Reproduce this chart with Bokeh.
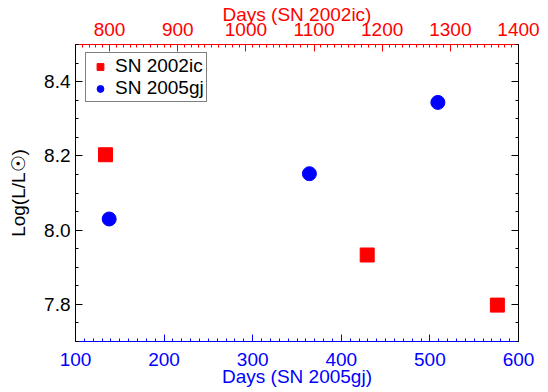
from bokeh.plotting import figure
from bokeh.models import (Range1d, LinearAxis, SingleIntervalTicker, Legend,
                          LegendItem, NumeralTickFormatter, CustomJSTickFormatter)
from bokeh.embed import file_html
from bokeh.resources import INLINE

# ---- data ----
days_2002ic = [794, 1178, 1369]          # top axis: Days (SN 2002ic)
logL_2002ic = [8.203, 7.933, 7.798]
days_2005gj = [138, 364, 509]            # bottom axis: Days (SN 2005gj)
logL_2005gj = [8.030, 8.152, 8.344]

bottom_range = (100, 600)
top_range = (750, 1400)
y_range = (7.7, 8.5)

FONT = "Liberation Sans"
FS = "19px"
RED = "#ff0000"
BLUE = "#0000ff"
BLACK = "#000000"

SHIFT = 8
W, H = 548, 392 + SHIFT

p = figure(width=W, height=H, output_backend="svg", toolbar_location=None,
           x_range=Range1d(*bottom_range), y_range=Range1d(*y_range),
           min_border_left=75, min_border_right=30,
           min_border_top=44 + SHIFT, min_border_bottom=51)
p.styles = {"margin-top": f"-{SHIFT}px"}
p.extra_x_ranges = {"top": Range1d(*top_range)}
p.grid.visible = False
p.outline_line_color = None
p.background_fill_color = "white"
p.border_fill_color = "white"


def style(ax, color, interval, nminor):
    ax.ticker = SingleIntervalTicker(interval=interval, num_minor_ticks=nminor)
    ax.axis_line_color = color
    ax.major_tick_line_color = color
    ax.minor_tick_line_color = color
    ax.major_label_text_color = color
    ax.axis_label_text_color = color
    ax.major_tick_in = 7
    ax.major_tick_out = 0
    ax.minor_tick_in = 3
    ax.minor_tick_out = 0
    ax.major_label_text_font = FONT
    ax.major_label_text_font_size = FS
    ax.axis_label_text_font = FONT
    ax.axis_label_text_font_size = FS
    ax.axis_label_text_font_style = "normal"


# bottom axis
bx = p.xaxis[0]
style(bx, BLUE, 100, 10)
bx.axis_label = "Days (SN 2005gj)"
bx.major_label_standoff = 11
bx.axis_label_standoff = -3

# top axis
tx = LinearAxis(x_range_name="top")
style(tx, RED, 100, 10)
tx.axis_label = "Days (SN 2002ic)"
tx.major_label_text_line_height = 1.0
tx.axis_label_text_line_height = 1.0
tx.major_label_standoff = 9
tx.axis_label_standoff = -5
p.add_layout(tx, "above")

# left axis
ly = p.yaxis[0]
style(ly, BLACK, 0.2, 4)
ly.formatter = NumeralTickFormatter(format="0.0")
ly.major_label_standoff = 5
ly.axis_label = "Log(L/L\u2609)"
ly.axis_label_standoff = 12

# right axis (ticks only)
ry = LinearAxis()
style(ry, BLACK, 0.2, 4)
ry.formatter = CustomJSTickFormatter(code="return ''")
ry.major_label_standoff = 0
p.add_layout(ry, "right")

# data
sq = p.scatter(days_2002ic, logL_2002ic, marker="square", size=14,
               color=RED, x_range_name="top")
ci = p.scatter(days_2005gj, logL_2005gj, marker="circle", size=14, color=BLUE)

legend = Legend(items=[LegendItem(label="SN 2002ic", renderers=[sq]),
                       LegendItem(label="SN 2005gj", renderers=[ci])],
                location=(10, 239))
legend.border_line_color = BLACK
legend.border_line_width = 1
legend.background_fill_color = "white"
legend.background_fill_alpha = 1
legend.label_text_font = FONT
legend.label_text_font_size = FS
legend.label_text_color = BLACK
legend.padding = 2
legend.spacing = -8
legend.margin = 0
legend.label_height = 17
legend.glyph_height = 17
legend.glyph_width = 24
legend.label_standoff = 3
p.add_layout(legend)

open("out.html", "w").write(file_html(p, INLINE))
